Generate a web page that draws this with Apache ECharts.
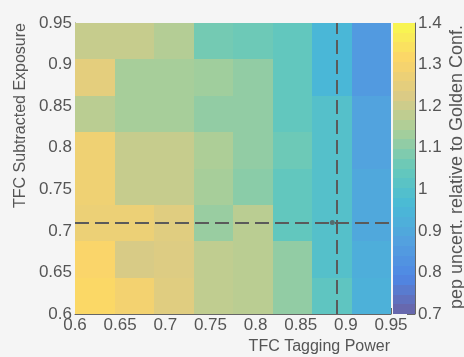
<!DOCTYPE html>
<html>
<head>
<meta charset="utf-8">
<script src="https://cdn.jsdelivr.net/npm/echarts@6/dist/echarts.min.js"></script>
<style>
  html, body { margin: 0; padding: 0; background: #f5f5f5; }
  #chart { width: 464px; height: 357px; }
</style>
</head>
<body>
<div id="chart"></div>
<script>
// Scan grid: TFC tagging power (x) against TFC subtracted exposure (y)
const xRange = [0.6, 0.95];
const yRange = [0.6, 0.95];
const nBinsX = 8;
const nBinsY = 8;

// pep uncertainty relative to the golden configuration, one array per exposure bin (lowest first)
const row0 = [1.32, 1.29, 1.24, 1.18, 1.17, 1.11, 1.03, 0.93];
const row1 = [1.31, 1.22, 1.23, 1.18, 1.17, 1.11, 1.00, 0.92];
const row2 = [1.27, 1.27, 1.24, 1.12, 1.17, 1.04, 1.00, 0.90];
const row3 = [1.28, 1.19, 1.19, 1.14, 1.10, 1.04, 1.00, 0.90];
const row4 = [1.28, 1.19, 1.19, 1.15, 1.11, 1.06, 1.00, 0.88];
const row5 = [1.17, 1.14, 1.14, 1.11, 1.11, 1.04, 1.00, 0.88];
const row6 = [1.25, 1.14, 1.14, 1.13, 1.11, 1.04, 0.95, 0.85];
const row7 = [1.19, 1.19, 1.16, 1.07, 1.06, 1.04, 0.95, 0.85];
const rows = [row0, row1, row2, row3, row4, row5, row6, row7];

// Tick labels
const xTickLabels = ['0.6', '0.65', '0.7', '0.75', '0.8', '0.85', '0.9', '0.95'];
const yTickLabels = ['0.6', '0.65', '0.7', '0.75', '0.8', '0.85', '0.9', '0.95'];
const zTickLabels = ['0.7', '0.8', '0.9', '1', '1.1', '1.2', '1.3', '1.4'];

// Colour scale
const zRange = [0.7, 1.4];
const nContours = 30;

// Chosen working point (dashed cross-hair)
const workingPoint = [0.885, 0.71];

// Bird palette stops, softened towards the page background
const birdStops = [0.0, 0.125, 0.25, 0.375, 0.5, 0.625, 0.75, 0.875, 1.0];
const birdR = [0.2082, 0.0592, 0.0780, 0.0232, 0.1802, 0.5301, 0.8186, 0.9956, 0.9764];
const birdG = [0.1664, 0.3599, 0.5041, 0.6419, 0.7178, 0.7492, 0.7328, 0.7862, 0.9832];
const birdB = [0.5293, 0.8684, 0.8385, 0.7914, 0.6425, 0.4662, 0.3499, 0.1968, 0.0539];
const paletteAlpha = 0.72;
const paperGrey = 245;

function birdColor(t) {
  t = Math.max(0, Math.min(1, t));
  let k = 0;
  while (k < birdStops.length - 2 && t > birdStops[k + 1]) k++;
  const f = (t - birdStops[k]) / (birdStops[k + 1] - birdStops[k]);
  const mix = (arr) => {
    const c = (arr[k] + (arr[k + 1] - arr[k]) * f) * 255;
    return Math.round(c * paletteAlpha + paperGrey * (1 - paletteAlpha));
  };
  return 'rgb(' + mix(birdR) + ',' + mix(birdG) + ',' + mix(birdB) + ')';
}
function valueColor(v) {
  return birdColor((v - zRange[0]) / (zRange[1] - zRange[0]));
}

const cellData = [];
rows.forEach((row, j) => row.forEach((v, i) => cellData.push([i, j, v])));

const levelData = [];
for (let k = 0; k < nContours; k++) levelData.push([k]);

const binW = (xRange[1] - xRange[0]) / nBinsX;
const binH = (yRange[1] - yRange[0]) / nBinsY;
const dz = (zRange[1] - zRange[0]) / nContours;

const textColor = '#555';
const lineColor = '#666';
const fontFamily = 'Liberation Sans, Arial, sans-serif';

function tickFormatter(labels, lo, step) {
  return (v) => {
    const idx = Math.round((v - lo) / step);
    return labels[idx] !== undefined ? labels[idx] : '';
  };
}

const chart = echarts.init(document.getElementById('chart'), null, { renderer: 'canvas' });

chart.setOption({
  backgroundColor: '#f5f5f5',
  animation: false,
  grid: [
    { left: 75, top: 23, width: 316, height: 291 },
    { left: 393, top: 23, width: 22, height: 291 }
  ],
  xAxis: [
    {
      gridIndex: 0, type: 'value', min: xRange[0], max: xRange[1], interval: 0.05,
      axisLine: { show: true, onZero: false, lineStyle: { color: lineColor, width: 1 } },
      axisTick: { show: true, inside: true, length: 6, lineStyle: { color: lineColor } },
      minorTick: { show: true, splitNumber: 5, length: 3, lineStyle: { color: lineColor } },
      splitLine: { show: false },
      axisLabel: {
        margin: 3, fontSize: 17, color: textColor, fontFamily: fontFamily,
        showMinLabel: true, showMaxLabel: true,
        formatter: tickFormatter(xTickLabels, xRange[0], 0.05)
      }
    },
    { gridIndex: 1, type: 'value', min: 0, max: 1, show: false }
  ],
  yAxis: [
    {
      gridIndex: 0, type: 'value', min: yRange[0], max: yRange[1], interval: 0.05,
      axisLine: { show: true, onZero: false, lineStyle: { color: lineColor, width: 1 } },
      axisTick: { show: true, inside: true, length: 10, lineStyle: { color: lineColor } },
      minorTick: { show: true, splitNumber: 5, length: 5, lineStyle: { color: lineColor } },
      splitLine: { show: false },
      axisLabel: {
        margin: 3, fontSize: 17, color: textColor, fontFamily: fontFamily,
        showMinLabel: true, showMaxLabel: true,
        formatter: tickFormatter(yTickLabels, yRange[0], 0.05)
      }
    },
    {
      gridIndex: 1, type: 'value', position: 'right', min: zRange[0], max: zRange[1], interval: 0.1,
      axisLine: { show: true, onZero: false, lineStyle: { color: lineColor, width: 1 } },
      axisTick: { show: true, inside: true, length: 8, lineStyle: { color: lineColor } },
      splitLine: { show: false },
      axisLabel: {
        margin: 3, fontSize: 17, color: textColor, fontFamily: fontFamily,
        showMinLabel: true, showMaxLabel: true,
        formatter: tickFormatter(zTickLabels, zRange[0], 0.1)
      }
    }
  ],
  series: [
    {
      name: 'relative pep uncertainty',
      type: 'custom',
      xAxisIndex: 0, yAxisIndex: 0,
      data: cellData,
      z: 1,
      renderItem: function (params, api) {
        const i = api.value(0), j = api.value(1), v = api.value(2);
        const x0 = xRange[0] + i * binW, y0 = yRange[0] + j * binH;
        const p0 = api.coord([x0, y0 + binH]);
        const p1 = api.coord([x0 + binW, y0]);
        const l = Math.round(p0[0]), t = Math.round(p0[1]);
        const r = Math.round(p1[0]), b = Math.round(p1[1]);
        return {
          type: 'rect',
          shape: { x: l, y: t, width: r - l, height: b - t },
          style: { fill: valueColor(v) }
        };
      }
    },
    {
      name: 'colour scale',
      type: 'custom',
      xAxisIndex: 1, yAxisIndex: 1,
      data: levelData,
      z: 1,
      renderItem: function (params, api) {
        const k = api.value(0);
        const lo = zRange[0] + k * dz, hi = lo + dz;
        const p0 = api.coord([0, hi]);
        const p1 = api.coord([1, lo]);
        const t = Math.round(p0[1]), b = Math.round(p1[1]);
        return {
          type: 'rect',
          shape: { x: p0[0], y: t, width: p1[0] - p0[0], height: b - t },
          style: { fill: valueColor(lo + dz / 2) }
        };
      }
    },
    {
      name: 'working point',
      type: 'scatter',
      xAxisIndex: 0, yAxisIndex: 0,
      data: [workingPoint],
      symbol: 'circle',
      symbolSize: 5,
      itemStyle: { color: '#555' },
      z: 5,
      silent: true,
      markLine: {
        silent: true,
        symbol: ['none', 'none'],
        label: { show: false },
        lineStyle: { color: '#5a5a5a', width: 2, type: [14, 6], opacity: 1 },
        emphasis: { disabled: true },
        data: [
          { xAxis: workingPoint[0] },
          { yAxis: workingPoint[1] }
        ]
      }
    }
  ],
  graphic: [
    {
      type: 'text', x: 390, y: 347,
      style: {
        text: 'TFC Tagging Power', fill: textColor,
        font: '16px ' + fontFamily, align: 'right', verticalAlign: 'middle'
      }
    },
    {
      type: 'text', x: 21, y: 23, rotation: Math.PI / 2,
      style: {
        text: 'TFC Subtracted Exposure', fill: textColor,
        font: '16px ' + fontFamily, align: 'right', verticalAlign: 'middle'
      }
    },
    {
      type: 'text', x: 457, y: 167, rotation: Math.PI / 2,
      style: {
        text: 'pep uncert. relative to Golden Conf.', fill: textColor,
        font: '18px ' + fontFamily, align: 'center', verticalAlign: 'middle'
      }
    }
  ]
});
</script>
</body>
</html>
